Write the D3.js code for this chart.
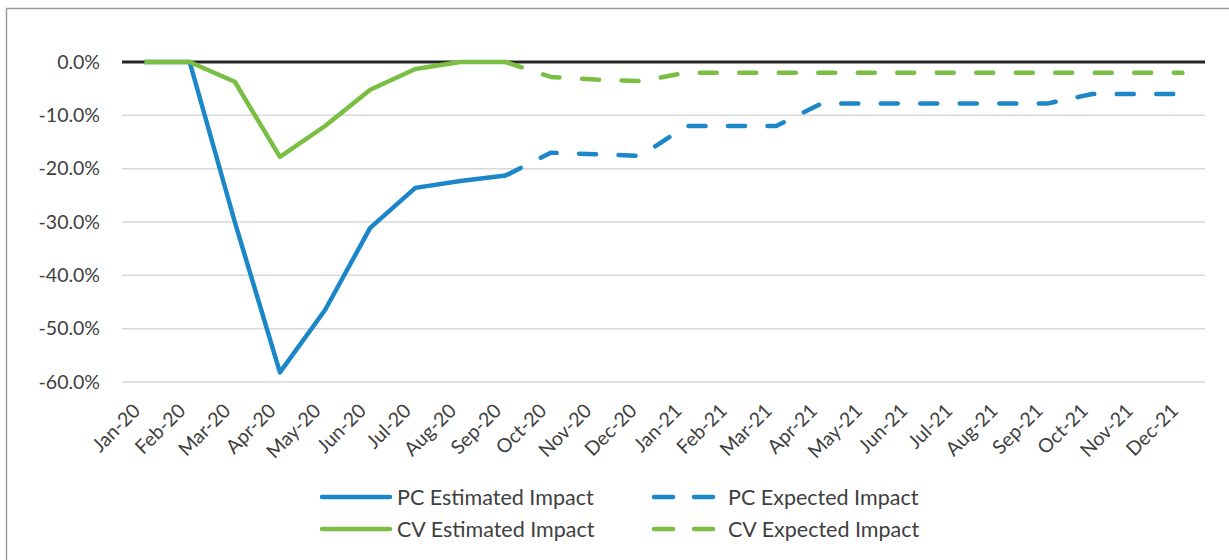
<!DOCTYPE html>
<html>
<head>
<meta charset="utf-8">
<script src="https://cdn.jsdelivr.net/npm/d3@7"></script>
<style>
  html, body { margin: 0; padding: 0; background: #fff; }
  svg { display: block; }
  text { font-family: Lato, "Noto Sans", sans-serif; fill: #404040; }
</style>
</head>
<body>
<svg id="chart" width="1229" height="560"></svg>
<script>
// Monthly impact, percent
const months = ["Jan-20","Feb-20","Mar-20","Apr-20","May-20","Jun-20","Jul-20","Aug-20","Sep-20","Oct-20","Nov-20","Dec-20",
                "Jan-21","Feb-21","Mar-21","Apr-21","May-21","Jun-21","Jul-21","Aug-21","Sep-21","Oct-21","Nov-21","Dec-21"];
const pcEstimated = [0, 0, -30, -58.2, -46.5, -31.1, -23.6, -22.3, -21.3];
const cvEstimated = [0, 0, -3.7, -17.8, -12.0, -5.2, -1.3, 0, 0];
// Expected series start at Sep-20 (index 8)
const expectedStart = 8;
const pcExpected = [-21.3, -17.0, -17.3, -17.6, -12, -12, -12, -7.8, -7.8, -7.8, -7.8, -7.8, -7.8, -6, -6, -6];
const cvExpected = [0, -2.8, -3.3, -3.6, -2, -2, -2, -2, -2, -2, -2, -2, -2, -2, -2, -2];
const yTicks = [0, -10, -20, -30, -40, -50, -60];

const blue = "#1b86c8", green = "#7abf43";

const svg = d3.select("#chart");
const plotLeft = 122, plotRight = 1205, plotTop = 62, plotBottom = 382;

// outer frame
svg.append("rect").attr("x", 6.5).attr("y", 8.5).attr("width", 1240).attr("height", 600)
  .attr("fill", "none").attr("stroke", "#9a9a9a").attr("stroke-width", 1.5);

const x = d3.scaleBand().domain(months).range([plotLeft, plotRight]);
const cx = m => x(m) + x.bandwidth() / 2;
const y = d3.scaleLinear().domain([-60, 0]).range([plotBottom, plotTop]);

// gridlines
svg.append("g").selectAll("line").data(yTicks.filter(t => t !== 0)).join("line")
  .attr("x1", plotLeft).attr("x2", plotRight).attr("y1", d => y(d)).attr("y2", d => y(d))
  .attr("stroke", "#d9d9d9").attr("stroke-width", 1.5);

// y axis labels (plain hyphen for negatives)
const yAxis = d3.axisLeft(y).tickValues(yTicks).tickSize(0).tickPadding(22)
  .tickFormat(d => (d < 0 ? "-" : "") + Math.abs(d).toFixed(1) + "%");
svg.append("g").attr("transform", `translate(${plotLeft},0)`).call(yAxis)
  .call(g => g.select(".domain").remove())
  .call(g => g.attr("font-family", null).attr("font-size", null))
  .selectAll("text").style("font-size", "19.5px").attr("fill", "#404040");

// category labels, rotated
const xAxis = d3.axisBottom(x).tickSize(0).tickPadding(0);
svg.append("g").attr("transform", `translate(0,${plotBottom})`).call(xAxis)
  .call(g => g.select(".domain").remove())
  .call(g => g.attr("font-family", null).attr("font-size", null))
  .selectAll("text")
  .style("font-size", "19.5px").attr("fill", "#404040")
  .attr("text-anchor", "end")
  .attr("dy", null).attr("y", 0)
  .attr("transform", "translate(-3,30) rotate(-45)");

// zero axis line
svg.append("line").attr("x1", plotLeft).attr("x2", plotRight).attr("y1", y(0)).attr("y2", y(0))
  .attr("stroke", "#262626").attr("stroke-width", 2.8);

const line = d3.line().x(d => cx(d.m)).y(d => y(d.v));
const toPts = (vals, start) => vals.map((v, i) => ({ m: months[start + i], v }));

const series = [
  { vals: pcEstimated, start: 0, color: blue, dash: null },
  { vals: cvEstimated, start: 0, color: green, dash: null },
  { vals: pcExpected, start: expectedStart, color: blue, dash: "17,22.5" },
  { vals: cvExpected, start: expectedStart, color: green, dash: "17,22.5" }
];
svg.append("g").selectAll("path").data(series).join("path")
  .attr("d", s => line(toPts(s.vals, s.start)))
  .attr("fill", "none").attr("stroke", s => s.color).attr("stroke-width", 4.5)
  .attr("stroke-linejoin", "round")
  .attr("stroke-linecap", s => s.dash ? "round" : "butt")
  .attr("stroke-dasharray", s => s.dash);

// legend
const legendItems = [
  { label: "PC Estimated Impact", color: blue, dash: null, col: 0, row: 0 },
  { label: "PC Expected Impact", color: blue, dash: "19,21", col: 1, row: 0 },
  { label: "CV Estimated Impact", color: green, dash: null, col: 0, row: 1 },
  { label: "CV Expected Impact", color: green, dash: "19,21", col: 1, row: 1 }
];
const lg = svg.append("g").selectAll("g").data(legendItems).join("g")
  .attr("transform", d => `translate(${d.col ? 654 : 322},${d.row ? 529 : 497})`);
lg.append("line").attr("x1", 0).attr("x2", d => d.dash ? 60 : 68)
  .attr("stroke", d => d.color).attr("stroke-width", 4.5)
  .attr("stroke-linecap", "round")
  .attr("stroke-dasharray", d => d.dash);
lg.append("text").attr("x", d => d.dash ? 74 : 75).attr("dy", "0.35em")
  .style("font-size", "21.5px").text(d => d.label);
</script>
</body>
</html>
